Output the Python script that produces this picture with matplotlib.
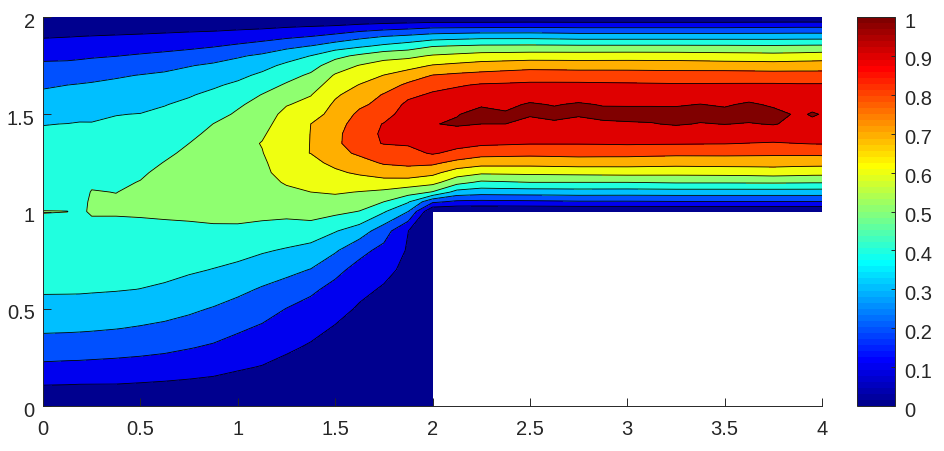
import numpy as np
import matplotlib
matplotlib.use("Agg")
import matplotlib.pyplot as plt
from matplotlib.cm import ScalarMappable
from matplotlib.colors import ListedColormap, Normalize
from matplotlib.transforms import ScaledTranslation

plt.rcParams['font.family'] = ['Liberation Sans', 'DejaVu Sans']

# y positions of the table rows
y_lower = [0, 0.1, 0.2, 0.3, 0.4, 0.5, 0.6, 0.7, 0.8, 0.9]
y_upper = [1.0, 1.05, 1.1, 1.15, 1.2, 1.25, 1.3, 1.35, 1.4, 1.45, 1.5,
           1.55, 1.6, 1.65, 1.7, 1.75, 1.8, 1.85, 1.9, 1.95, 2.0]

# x positions of the table columns
x_inlet = [0, 0.125, 0.1875, 0.25, 0.375, 0.5, 0.625, 0.75, 0.875, 1, 1.125,
           1.25, 1.375, 1.5, 1.625, 1.75, 1.875, 2]
x_channel = [2.125, 2.25, 2.375, 2.5, 2.625, 2.75, 2.875, 3, 3.125, 3.25,
             3.375, 3.5, 3.625, 3.75, 3.875, 3.95, 4]

# values, one column per x, below y=1 (inlet part only)
u_inlet_lower = [
    [0, .094, .18, .253, .317, .372, .41, .44, .465, .49],
    [0, .092, .176, .249, .315, .37, .41, .435, .458, .48],
    [0, .09, .175, .247, .313, .368, .41, .432, .452, .47],
    [0, .09, .172, .245, .31, .366, .408, .43, .455, .478],
    [0, .09, .168, .238, .303, .357, .405, .43, .456, .481],
    [0, .085, .162, .23, .293, .347, .399, .426, .453, .48],
    [0, .08, .153, .22, .282, .333, .39, .419, .447, .476],
    [0, .074, .142, .204, .265, .316, .367, .411, .443, .475],
    [0, .067, .13, .188, .24, .294, .35, .397, .437, .476],
    [0, .059, .11, .162, .214, .267, .322, .379, .429, .474],
    [0, .05, .096, .14, .187, .24, .291, .35, .41, .467],
    [0, .035, .073, .114, .156, .198, .261, .326, .391, .459],
    [0, .03, .06, .089, .126, .168, .218, .296, .37, .447],
    [0, .023, .047, .07, .093, .13, .171, .227, .312, .406],
    [0, .018, .036, .054, .072, .09, .121, .166, .229, .351],
    [0, .015, .03, .046, .061, .077, .091, .123, .172, .245],
    [0, .011, .022, .034, .045, .056, .067, .078, .09, .101],
    [0, 0, 0, 0, 0, 0, 0, 0, 0, 0],
]

# same columns, y=1 and above
u_inlet_upper = [
    [.501, .489, .478, .466, .455, .444, .432, .42, .41, .398, .372, .345, .317, .288, .252, .217, .178, .135, .092, .046, 0],
    [.5005, .489, .478, .466, .455, .444, .432, .42, .41, .401, .376, .35, .325, .3, .26, .22, .18, .138, .097, .049, 0],
    [.49, .485, .478, .47, .46, .449, .437, .425, .415, .405, .38, .354, .33, .305, .267, .226, .184, .141, .1, .05, 0],
    [.507, .507, .503, .49, .475, .46, .447, .434, .42, .404, .383, .359, .334, .31, .274, .232, .19, .148, .103, .052, 0],
    [.506, .507, .499, .487, .474, .461, .449, .436, .424, .411, .398, .372, .345, .32, .29, .244, .198, .152, .108, .055, 0],
    [.509, .513, .512, .503, .489, .474, .459, .445, .43, .416, .402, .379, .353, .328, .303, .258, .21, .161, .113, .059, 0],
    [.517, .528, .53, .527, .52, .503, .486, .468, .45, .433, .416, .397, .369, .342, .314, .275, .222, .17, .12, .063, 0],
    [.525, .54, .55, .55, .54, .53, .515, .5, .48, .459, .438, .417, .393, .361, .33, .296, .238, .18, .128, .067, 0],
    [.54, .56, .575, .58, .575, .565, .55, .535, .52, .501, .474, .447, .419, .388, .351, .314, .262, .194, .135, .07, 0],
    [.545, .565, .58, .585, .585, .58, .57, .56, .545, .53, .51, .49, .452, .417, .378, .336, .29, .215, .147, .077, 0],
    [.53, .555, .56, .565, .57, .575, .595, .605, .585, .565, .545, .525, .503, .46, .418, .37, .316, .24, .16, .083, 0],
    [.525, .551, .578, .61, .65, .685, .685, .68, .67, .65, .63, .594, .551, .511, .467, .421, .356, .276, .18, .094, 0],
    [.546, .573, .6, .625, .65, .677, .701, .701, .701, .7, .659, .628, .596, .556, .515, .463, .402, .303, .2, .103, 0],
    [.523, .567, .61, .645, .685, .72, .77, .775, .77, .755, .735, .715, .687, .648, .609, .55, .472, .35, .229, .113, 0],
    [.497, .546, .597, .656, .714, .765, .815, .865, .87, .85, .82, .783, .743, .704, .655, .605, .52, .385, .27, .133, 0],
    [.41, .5, .58, .665, .745, .81, .842, .905, .91, .905, .86, .828, .807, .753, .702, .64, .566, .42, .3, .15, 0],
    [.3, .41, .545, .655, .76, .82, .87, .91, .955, .965, .95, .925, .875, .82, .747, .665, .576, .45, .32, .163, 0],
    [0, .22, .495, .633, .727, .82, .91, .93, .96, .995, .99, .95, .915, .865, .803, .707, .61, .496, .345, .18, 0],
]

# channel past the step, only y=1 and above exists there
u_channel = [
    [0, .18, .365, .535, .652, .768, .875, .93, .96, 1.012, .995, .975, .935, .89, .82, .725, .625, .507, .355, .182, 0],
    [0, .175, .345, .482, .618, .739, .837, .917, .957, 1.0, 1.03, .99, .945, .91, .832, .742, .641, .517, .365, .183, 0],
    [0, .178, .348, .491, .621, .738, .832, .911, .95, 1.0, 1.01, .98, .952, .914, .843, .752, .645, .518, .365, .185, 0],
    [0, .181, .35, .5, .624, .737, .827, .905, .94, .97, 1.01, 1.01, .96, .919, .854, .762, .65, .519, .365, .188, 0],
    [0, .185, .352, .5, .627, .742, .83, .905, .945, .985, 1.025, .995, .955, .92, .852, .76, .65, .518, .36, .185, 0],
    [0, .19, .355, .5, .63, .747, .834, .905, .94, .97, 1.01, 1.01, .96, .92, .85, .757, .65, .516, .353, .183, 0],
    [0, .19, .354, .5, .633, .745, .833, .907, .945, .985, 1.025, .995, .953, .917, .85, .757, .651, .516, .353, .183, 0],
    [0, .19, .353, .5, .636, .744, .833, .91, .95, .99, 1.03, .993, .947, .915, .849, .757, .652, .516, .353, .183, 0],
    [0, .192, .354, .505, .634, .74, .828, .908, .945, .995, 1.03, .993, .948, .913, .846, .756, .651, .516, .353, .183, 0],
    [0, .194, .355, .51, .632, .736, .824, .907, .94, 1.01, 1.03, .992, .95, .911, .843, .755, .65, .516, .353, .183, 0],
    [0, .194, .355, .51, .634, .738, .824, .905, .945, .995, 1.03, 1.002, .96, .911, .845, .752, .646, .515, .353, .183, 0],
    [0, .194, .355, .51, .636, .74, .824, .904, .953, 1.002, 1.03, .989, .951, .911, .848, .748, .642, .515, .353, .183, 0],
    [0, .194, .355, .511, .64, .74, .822, .898, .95, .995, 1.03, 1.015, .955, .912, .845, .746, .64, .513, .353, .186, 0],
    [0, .194, .355, .512, .647, .74, .82, .893, .95, 1.005, 1.03, .986, .949, .9125, .842, .744, .635, .512, .353, .188, 0],
    [0, .194, .355, .51, .64, .735, .82, .9, .95, .98, .988, .97, .94, .91, .84, .75, .64, .515, .355, .19, 0],
    [0, .195, .355, .508, .635, .735, .82, .905, .95, .985, 1.006, .98, .945, .91, .84, .75, .645, .517, .355, .19, 0],
    [0, .195, .354, .508, .634, .734, .823, .905, .95, .985, .997, .98, .945, .91, .84, .751, .649, .518, .355, .19, 0],
]

levels = [0, .1, .2, .3, .4, .5, .6, .7, .8, .9, 1.0, 1.2]
line_levels = levels[1:-1]
x_ticks = [0, .5, 1, 1.5, 2, 2.5, 3, 3.5, 4]
x_labels = ['0', '0.5', '1', '1.5', '2', '2.5', '3', '3.5', '4']
y_ticks = [0, .5, 1, 1.5, 2]
y_labels = ['0', '0.5', '1', '1.5', '2']
cb_ticks = [0, .1, .2, .3, .4, .5, .6, .7, .8, .9, 1]
cb_labels = ['0', '0.1', '0.2', '0.3', '0.4', '0.5', '0.6', '0.7', '0.8', '0.9', '1']

# build the table, the step corner is just nan
x = np.array(x_inlet + x_channel)
y = np.array(y_lower + y_upper)
inlet = np.hstack([np.array(u_inlet_lower), np.array(u_inlet_upper)])
channel = np.hstack([np.full((len(x_channel), len(y_lower)), np.nan), np.array(u_channel)])
Z = np.ma.masked_invalid(np.vstack([inlet, channel]).T)

# matlab's jet with 64 steps, matplotlib's own jet is a bit different
k = np.arange(1, 65)
r = np.clip(np.minimum((k - 24) / 16, (72 - k) / 16), 0, 1)
g = np.clip(np.minimum((k - 8) / 16, (56 - k) / 16), 0, 1)
b = np.clip(np.minimum((k + 8) / 16, (40 - k) / 16), 0, 1)
jet = ListedColormap(np.column_stack([r, g, b]))
axis_color = '#262626'

fig = plt.figure(figsize=(9.44, 4.52), dpi=100)
ax = fig.add_axes([43/944, 45/452, 779/944, 389/452])
ax.contourf(x, y, Z, levels=levels, colors=[jet(l) for l in levels[:-1]], corner_mask=False)
ax.contour(x, y, Z, levels=line_levels, colors='k', linewidths=0.6, corner_mask=False)

ax.set_xlim(0, 4)
ax.set_ylim(0, 2)
ax.set_xticks(x_ticks, x_labels)
ax.set_yticks(y_ticks, y_labels)
ax.tick_params(direction='in', length=5.6, width=0.7, color=axis_color,
               labelcolor=axis_color, labelsize=14.5)
ax.tick_params(axis='x', pad=9.5)
ax.tick_params(axis='y', pad=6)
ax.spines['top'].set_visible(False)
ax.spines['right'].set_visible(False)
ax.spines['left'].set_color(axis_color)
ax.spines['bottom'].set_color(axis_color)
ax.spines['left'].set_linewidth(0.7)
ax.spines['bottom'].set_linewidth(0.7)

cax = fig.add_axes([857/944, 45/452, 38/944, 389/452])
cb = fig.colorbar(ScalarMappable(norm=Normalize(0, 1), cmap=jet), cax=cax)
cb.set_ticks(cb_ticks, labels=cb_labels)
cb.ax.tick_params(direction='in', length=3, width=0.7, color=axis_color,
                  labelcolor=axis_color, labelsize=14.5, pad=7)
cb.outline.set_edgecolor(axis_color)
cb.outline.set_linewidth(0.7)

# the y labels sit a little under their ticks in the original
shift = ScaledTranslation(0, -1.5 / 72, fig.dpi_scale_trans)
for label in ax.get_yticklabels() + cb.ax.get_yticklabels():
    label.set_transform(label.get_transform() + shift)

fig.savefig('out.png', dpi=100)
